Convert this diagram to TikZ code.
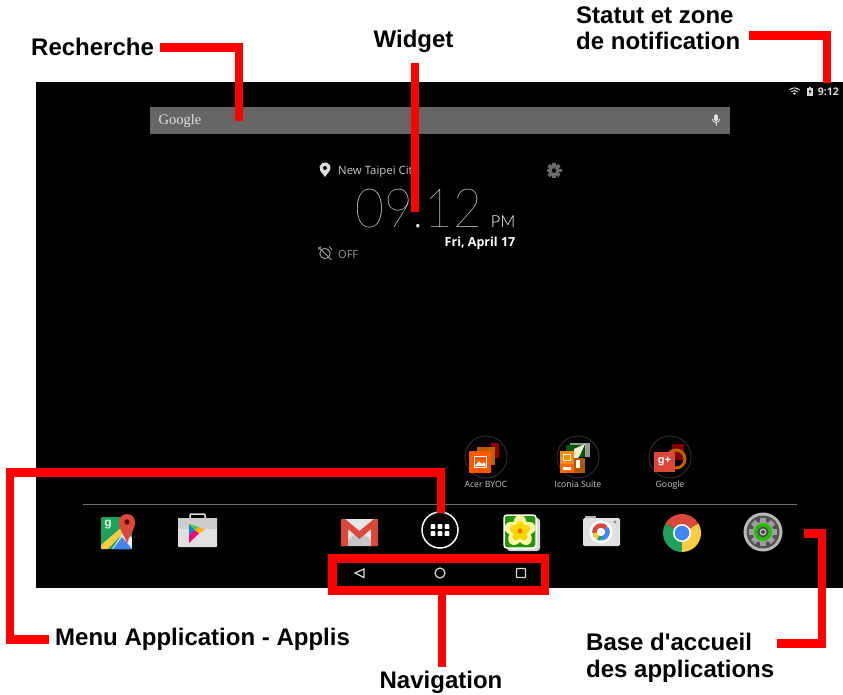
\documentclass[tikz,border=0pt]{standalone}
\usepackage{fontspec}
\setmainfont{Liberation Sans}
\newfontfamily\scrf{Open Sans}
\newfontfamily\thinf{Lato Hairline}
\newfontfamily\lightf{Lato Light}
\newfontfamily\logof{Liberation Serif}
\definecolor{redline}{HTML}{FF0000}
\definecolor{scrtext}{HTML}{C8C8C8}
\definecolor{barfill}{HTML}{666666}
\definecolor{gred}{HTML}{D9483B}
\definecolor{ggreen}{HTML}{1FA05C}
\definecolor{gyellow}{HTML}{FBCB43}
\definecolor{gblue}{HTML}{4285F4}
\tikzset{
  callout/.style={draw=redline,line width=8.5pt,line cap=butt,line join=miter},
  label/.style={font=\fontsize{24}{26.5}\selectfont\bfseries,text=black,inner sep=0pt,align=left},
  scr/.style={font=\fontsize{11.4}{13}\selectfont\scrf,text=scrtext,inner sep=0pt},
  folderlabel/.style={font=\fontsize{8.7}{10}\selectfont\scrf,text=scrtext,inner sep=0pt,anchor=base},
  folder/.style={circle,fill=black,draw=white!18!black,line width=1pt,minimum size=42pt,inner sep=0pt},
  navic/.style={draw=white!85!black,line width=1.2pt},
}
\begin{document}
\begin{tikzpicture}[x=1pt,y=-1pt]
\useasboundingbox (0,0) rectangle (843,694);
\fill[white] (0,0) rectangle (843,694);
% screen
\fill[black] (36,82) rectangle (843,588);
% search bar
\node[draw=none,fill=barfill,minimum width=580pt,minimum height=27pt,inner sep=0pt,anchor=north west] (bar) at (150,107) {};
\node[font=\fontsize{14.5}{16}\selectfont\logof,text=white!88!black,inner sep=0pt,anchor=base west] (googlelogo) at (158.5,124) {Google};
\begin{scope}[shift={(716,120)}]
 \fill[white!88!black,rounded corners=1.7pt] (-1.8,-6) rectangle (1.8,1.5);
 \draw[white!88!black,line width=.9pt] (-3.6,-1) arc[start angle=180,end angle=0,radius=3.6];
 \draw[white!88!black,line width=.9pt] (0,2.6) -- (0,6);
\end{scope}
% location + clock
\fill[white!88!black] (325,177) -- (320.2,170.5) arc[start angle=150,end angle=390,radius=5.5] -- cycle;
\fill[black] (325,168) circle (2);
\node[scr,anchor=base west] (city) at (338,174) {New Taipei City};
\begin{scope}[shift={(554,170.5)}]
 \foreach \a in {0,45,...,315}{\fill[white!42!black,rotate=\a] (-1.8,-7.5) rectangle (1.8,-4);}
 \fill[white!42!black] (0,0) circle (5.5);
 \fill[black] (0,0) circle (2.2);
\end{scope}
\node[font=\fontsize{54}{56}\selectfont\thinf,xscale=.92,text=white,inner sep=0pt,anchor=base west] (clock) at (355,227) {09:12};
\node[font=\fontsize{16.5}{18}\selectfont\lightf,text=white,inner sep=0pt,anchor=base east] (pm) at (515.5,227) {PM};
\node[font=\fontsize{12.5}{14}\selectfont\scrf\bfseries,text=white,inner sep=0pt,anchor=base east] (date) at (515.5,246) {Fri, April 17};
\begin{scope}[shift={(325,253.5)}]
 \draw[white!60!black,line width=1pt] (0,0) circle (5.2);
 \draw[white!60!black,line width=1pt] (-6.5,-6.5) -- (6.5,6.5);
 \draw[white!60!black,line width=1pt] (-7,-4) -- (-4,-7) (7,-4) -- (4,-7);
\end{scope}
\node[scr,font=\fontsize{11}{13}\selectfont\scrf,text=white!60!black,anchor=base west] (off) at (338,258) {OFF};
% status bar
\begin{scope}[shift={(794.5,95)}]
 \draw[white!85!black,line width=1pt] (-5,-5) arc[start angle=225,end angle=315,radius=7.07];
 \draw[white!85!black,line width=1pt] (-3.2,-3.2) arc[start angle=225,end angle=315,radius=4.5];
 \fill[white!85!black] (0,0) -- (-1.6,-1.8) arc[start angle=225,end angle=315,radius=2.3] -- cycle;
\end{scope}
\fill[white!85!black] (807,88) rectangle (813,95.5);
\fill[white!85!black] (809,87) rectangle (811,88);
\fill[black] (810.5,89) -- (808.8,92) -- (810,92) -- (809.5,94.5) -- (811.3,91.2) -- (810.2,91.2) -- cycle;
\node[font=\fontsize{10.5}{12}\selectfont\scrf\bfseries,text=white!85!black,inner sep=0pt,anchor=base east] (time) at (839,95) {9:12};
% folders
\node[folder] (f1) at (486,457) {};
\node[folder] (f2) at (578,457) {};
\node[folder] (f3) at (670,457) {};
% folder 1
\fill[red!55!black] (491,443) rectangle (499,458);
\fill[orange!75!black] (477,447) rectangle (495,465);
\fill[orange!70!red,rounded corners=1pt] (469,451) rectangle (491,473);
\draw[white,line width=.9pt] (474,456) rectangle (486,467);
\fill[white] (475,466) -- (479,461) -- (482,464) -- (484,462) -- (486,466) -- cycle;
% folder 2
\fill[white!60!black] (570,443) rectangle (590,457);
\fill[green!35!black] (566,445) rectangle (585,457);
\fill[orange!90!yellow] (560,451) rectangle (574,464);
\fill[white!85!orange] (574,449) -- (585,444) -- (580,455) -- (574,464) -- cycle;
\fill[orange!70!black] (574,458) rectangle (585,473);
\fill[orange!80!red] (560,464) rectangle (574,473);
\fill[white] (576,460) rectangle (580,468);
\fill[white] (563,467) rectangle (571,470);
\draw[white,line width=.8pt] (563,454) rectangle (570,460);
% folder 3
\fill[red!50!black] (672,444) rectangle (684,460);
\draw[orange!75!black,line width=3pt] (676,459) circle (9);
\fill[gred] (654,452) rectangle (675,472);
\node[font=\fontsize{11}{12}\selectfont\bfseries,text=white,inner sep=0pt] (gplus) at (664.5,461.5) {g+};
\node[folderlabel] (lf1) at (486,487.5) {Acer BYOC};
\node[folderlabel] (lf2) at (578,487.5) {Iconia Suite};
\node[folderlabel] (lf3) at (670,487.5) {Google};
% dock line
\draw[white!45!black,line width=1pt] (83,504) -- (797,504);
% Maps
\begin{scope}
 \clip[rounded corners=1pt] (101,517) rectangle (132,549);
 \fill[ggreen] (101,517) rectangle (132,549);
 \fill[white!92!black] (112,549) -- (125,530) -- (132,538) -- (132,549) -- cycle;
 \fill[gblue] (113,549) -- (122,537) -- (132,549) -- cycle;
 \fill[gyellow] (101,545) -- (123,526) -- (126,530) -- (108,549) -- (101,549) -- cycle;
\end{scope}
\node[font=\fontsize{12}{12}\selectfont\bfseries,text=white!85!green,inner sep=0pt] (mapg) at (108,525) {g};
\fill[gred] (127,544) .. controls (125,535) and (119,531) .. (119,522) arc[start angle=180,end angle=360,radius=8] .. controls (135,531) and (129,535) .. (127,544) -- cycle;
\fill[red!45!black] (127,522) circle (2.7);
% Play store
\draw[white!85!black,line width=1.5pt,rounded corners=1pt] (190,519) -- (190,514) -- (205,514) -- (205,519);
\fill[white!88!black,rounded corners=1pt] (178,518) rectangle (217,547);
\fill[white!80!black] (178,518) rectangle (217,529);
\fill[cyan!70!blue] (189,524) -- (189,535) -- (195,530) -- cycle;
\fill[green!65!black!70] (189,524) -- (195,530) -- (199,527) -- cycle;
\fill[magenta!80!red] (189,543) -- (189,535) -- (195,530) -- (199,533.5) -- cycle;
\fill[orange!60!yellow] (199,527) -- (195,530) -- (199,533.5) -- (205,530) -- cycle;
% Gmail
\fill[white!90!black] (341,519) rectangle (378,546);
\fill[white!78!black] (341,546) -- (359.5,530) -- (378,546) -- cycle;
\fill[gred] (341,519) -- (345,519) -- (359.5,531) -- (374,519) -- (378,519) -- (378,546) -- (371,546) -- (371,529) -- (359.5,539) -- (348,529) -- (348,546) -- (341,546) -- cycle;
% Apps button
\node[circle,draw=white,line width=1.5pt,fill=black,minimum size=36pt,inner sep=0pt] (apps) at (440,530) {};
\foreach \x in {-7,0,7}{\foreach \y in {-3.5,3.5}{\fill[white,rounded corners=.6pt] (440+\x-2.3,530+\y-2.3) rectangle (440+\x+2.3,530+\y+2.3);}}
% Gallery
\fill[white!85!black,rounded corners=3pt] (507,518) rectangle (540,551);
\draw[white,fill=green!50!black!85!yellow,line width=1.5pt,rounded corners=3pt] (504,515) rectangle (536,548);
\foreach \a in {0,72,144,216,288}{\fill[yellow!35!white,rotate around={\a:(520,531)}] (520,523) ellipse (6.5 and 8);}
\foreach \a in {0,72,144,216,288}{\fill[yellow!75!orange,rotate around={\a:(520,531)}] (520,526) ellipse (4.5 and 5.5);}
\fill[orange!85!red] (520,531) circle (2.5);
% Camera
\fill[white!70!black] (585,516) rectangle (596,520);
\fill[white!88!black,rounded corners=1.5pt] (583,518) rectangle (620,546);
\fill[white!55!black] (615,522) circle (1.6);
\fill[white] (601,532) circle (11.5);
\draw[gred,line width=4.5pt] (601,532) ++(170:6.5) arc[start angle=170,end angle=320,radius=6.5];
\draw[gblue,line width=4.5pt] (601,532) ++(-40:6.5) arc[start angle=-40,end angle=90,radius=6.5];
\draw[ggreen,line width=4.5pt] (601,532) ++(90:6.5) arc[start angle=90,end angle=120,radius=6.5];
\draw[gyellow,line width=4.5pt] (601,532) ++(120:6.5) arc[start angle=120,end angle=170,radius=6.5];
% Chrome
\begin{scope}[shift={(682,533)}]
 \fill[gred] (0,0) -- (-16.5,-9.5) arc[start angle=210,end angle=330,radius=19] -- cycle;
 \fill[ggreen] (0,0) -- (0,19) arc[start angle=90,end angle=210,radius=19] -- cycle;
 \fill[gyellow] (0,0) -- (16.5,-9.5) arc[start angle=-30,end angle=90,radius=19] -- cycle;
 \fill[white] (0,0) circle (9);
 \fill[gblue] (0,0) circle (7.3);
\end{scope}
% Settings
\begin{scope}[shift={(763,532)}]
 \fill[white!72!black] (0,0) circle (19.5);
 \fill[white!32!black] (0,0) circle (16.5);
 \foreach \a in {0,45,...,315}{\fill[white!62!black,rotate=\a] (-3,-14) rectangle (3,-9);}
 \fill[white!62!black] (0,0) circle (10.5);
 \fill[green!70!black!85!yellow] (0,0) circle (9);
 \fill[white!30!black] (0,0) circle (5.5);
 \fill[white!75!black] (0,0) circle (3.5);
 \fill[white!30!black] (0,0) circle (2);
\end{scope}
% nav icons
\draw[navic] (364,569) -- (355,573) -- (364,577.5) -- cycle;
\node[circle,navic,minimum size=10pt,inner sep=0pt] (home) at (440,573) {};
\node[navic,minimum size=9pt,inner sep=0pt,rounded corners=.7pt] (recent) at (521,573) {};
% labels
\node[label,anchor=base west] (recherche) at (31,55) {Recherche};
\node[label,anchor=base] (widget) at (413.5,47) {Widget};
\node[label,anchor=west] (statut) at (576,28) {Statut et zone\\de notification};
\node[label,anchor=base west] (menu) at (55,645) {Menu Application - Applis};
\node[label,anchor=base] (navi) at (441,688) {Navigation};
\node[label,anchor=west] (base) at (586,658) {Base d\textquotesingle accueil\\des applications};
% callout anchors
\coordinate (rA) at (160,47.5);
\coordinate (rB) at (239,121);
\coordinate (wA) at (415,63);
\coordinate (wB) at (415,212);
\coordinate (sA) at (749,35.5);
\coordinate (sB) at (827,83);
\coordinate (mA) at (49,639.5);
\coordinate (mB) at (10,472.5);
\coordinate (mC) at (441,513);
\coordinate (nA) at (442,595);
\coordinate (nB) at (442,667);
\coordinate (bA) at (804,533.5);
\coordinate (bB) at (822,533.5);
\coordinate (bC) at (777,643.5);
% nav frame
\node[draw=redline,line width=8.5pt,minimum width=212.5pt,minimum height=32pt,inner sep=0pt] (navframe) at (438.75,574.5) {};
% callouts
\draw[callout] (rA) -| (rB);
\draw[callout] (wA) -- (wB);
\draw[callout] (sA) -| (sB);
\draw[callout] (mA) -| (mB) -| (mC);
\draw[callout] (navframe.south -| nA) -- (nB);
\draw[callout] (bA) -| (bB) |- (bC);
\end{tikzpicture}
\end{document}
